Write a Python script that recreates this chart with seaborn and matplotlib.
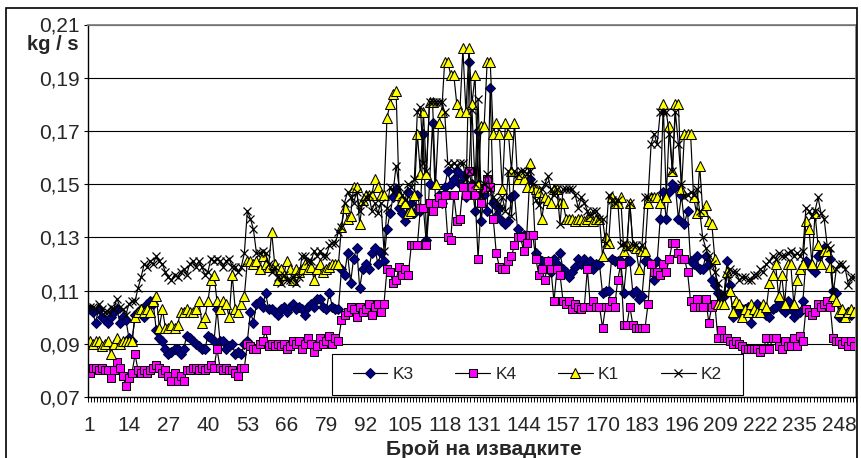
import numpy as np
import pandas as pd
import matplotlib
matplotlib.use("Agg")
import matplotlib.pyplot as plt
from matplotlib.patches import Rectangle
from matplotlib.ticker import FixedLocator, FuncFormatter
import seaborn as sns

# values, one per sample (1..253)
k3 = [0.103, 0.102, 0.098, 0.103, 0.100, 0.099, 0.098, 0.100, 0.102, 0.103,
      0.098, 0.100, 0.099, 0.092, 0.091, 0.101, 0.102, 0.103, 0.100, 0.105,
      0.106, 0.105, 0.095, 0.092, 0.091, 0.088, 0.086, 0.087, 0.088, 0.088,
      0.086, 0.088, 0.093, 0.092, 0.091, 0.090, 0.089, 0.088, 0.088, 0.093,
      0.092, 0.091, 0.103, 0.091, 0.091, 0.088, 0.089, 0.090, 0.086, 0.087,
      0.086, 0.090, 0.091, 0.102, 0.098, 0.105, 0.106, 0.104, 0.109, 0.103,
      0.103, 0.102, 0.101, 0.103, 0.104, 0.102, 0.104, 0.105, 0.103, 0.104,
      0.103, 0.101, 0.104, 0.105, 0.104, 0.107, 0.107, 0.104, 0.103, 0.109,
      0.104, 0.103, 0.103, 0.118, 0.116, 0.124, 0.113, 0.122, 0.126, 0.111,
      0.118, 0.120, 0.118, 0.124, 0.126, 0.120, 0.124, 0.121, 0.133, 0.139,
      0.145, 0.148, 0.141, 0.139, 0.136, 0.147, 0.143, 0.139, 0.146, 0.140,
      0.169, 0.129, 0.150, 0.173, 0.143, 0.146, 0.143, 0.149, 0.155, 0.150,
      0.152, 0.155, 0.150, 0.153, 0.145, 0.196, 0.150, 0.140, 0.170, 0.136,
      0.146, 0.140, 0.186, 0.143, 0.138, 0.141, 0.136, 0.135, 0.136, 0.145,
      0.146, 0.133, 0.130, 0.131, 0.130, 0.152, 0.148, 0.124, 0.122, 0.121,
      0.119, 0.121, 0.117, 0.122, 0.120, 0.124, 0.118, 0.117, 0.115, 0.117,
      0.119, 0.122, 0.120, 0.122, 0.120, 0.121, 0.118, 0.120, 0.120, 0.109,
      0.110, 0.110, 0.122, 0.121, 0.121, 0.121, 0.109, 0.121, 0.121, 0.109,
      0.110, 0.107, 0.108, 0.121, 0.121, 0.120, 0.114, 0.121, 0.137, 0.147,
      0.137, 0.147, 0.150, 0.149, 0.137, 0.146, 0.135, 0.140, 0.121, 0.120,
      0.123, 0.118, 0.118, 0.123, 0.120, 0.114, 0.112, 0.109, 0.108, 0.108,
      0.121, 0.112, 0.100, 0.102, 0.102, 0.103, 0.103, 0.104, 0.098, 0.103,
      0.105, 0.102, 0.102, 0.101, 0.100, 0.103, 0.104, 0.106, 0.103, 0.102,
      0.106, 0.103, 0.100, 0.102, 0.102, 0.106, 0.121, 0.120, 0.118, 0.117,
      0.123, 0.124, 0.126, 0.125, 0.122, 0.110, 0.109, 0.100, 0.100, 0.101,
      0.102, 0.101, 0.102]

k4 = [0.079, 0.081, 0.081, 0.080, 0.081, 0.080, 0.080, 0.077, 0.080, 0.083,
      0.081, 0.078, 0.074, 0.077, 0.079, 0.086, 0.080, 0.079, 0.080, 0.079,
      0.080, 0.081, 0.082, 0.081, 0.079, 0.080, 0.078, 0.076, 0.079, 0.076,
      0.078, 0.076, 0.080, 0.080, 0.081, 0.081, 0.080, 0.081, 0.080, 0.081,
      0.082, 0.081, 0.088, 0.081, 0.080, 0.081, 0.080, 0.080, 0.079, 0.078,
      0.081, 0.081, 0.090, 0.089, 0.088, 0.088, 0.090, 0.091, 0.095, 0.089,
      0.090, 0.089, 0.090, 0.089, 0.090, 0.088, 0.089, 0.091, 0.090, 0.091,
      0.088, 0.090, 0.092, 0.090, 0.087, 0.089, 0.092, 0.090, 0.091, 0.093,
      0.090, 0.092, 0.091, 0.099, 0.101, 0.102, 0.104, 0.103, 0.100, 0.104,
      0.102, 0.103, 0.105, 0.101, 0.104, 0.105, 0.102, 0.105, 0.118, 0.117,
      0.113, 0.114, 0.119, 0.116, 0.118, 0.116, 0.127, 0.127, 0.127, 0.141,
      0.141, 0.127, 0.143, 0.140, 0.143, 0.145, 0.143, 0.146, 0.130, 0.129,
      0.146, 0.136, 0.137, 0.149, 0.146, 0.155, 0.149, 0.146, 0.122, 0.143,
      0.148, 0.152, 0.149, 0.137, 0.124, 0.119, 0.118, 0.118, 0.121, 0.123,
      0.127, 0.130, 0.130, 0.125, 0.128, 0.131, 0.131, 0.122, 0.116, 0.118,
      0.114, 0.121, 0.118, 0.106, 0.118, 0.116, 0.106, 0.105, 0.106, 0.103,
      0.105, 0.104, 0.103, 0.104, 0.118, 0.104, 0.106, 0.104, 0.104, 0.096,
      0.104, 0.104, 0.106, 0.104, 0.114, 0.120, 0.097, 0.097, 0.104, 0.097,
      0.096, 0.096, 0.096, 0.096, 0.105, 0.120, 0.117, 0.117, 0.116, 0.120,
      0.117, 0.122, 0.128, 0.128, 0.124, 0.122, 0.122, 0.117, 0.106, 0.104,
      0.107, 0.104, 0.104, 0.107, 0.098, 0.104, 0.105, 0.092, 0.095, 0.092,
      0.092, 0.091, 0.090, 0.091, 0.090, 0.089, 0.088, 0.088, 0.088, 0.088,
      0.088, 0.087, 0.088, 0.092, 0.088, 0.092, 0.092, 0.089, 0.088, 0.091,
      0.089, 0.089, 0.092, 0.089, 0.093, 0.091, 0.103, 0.102, 0.101, 0.102,
      0.105, 0.104, 0.105, 0.106, 0.104, 0.092, 0.091, 0.091, 0.090, 0.091,
      0.089, 0.091, 0.089]

k1 = [0.091, 0.090, 0.091, 0.091, 0.089, 0.090, 0.091, 0.086, 0.090, 0.092,
      0.090, 0.091, 0.091, 0.091, 0.091, 0.100, 0.102, 0.103, 0.102, 0.103,
      0.102, 0.106, 0.108, 0.096, 0.103, 0.096, 0.096, 0.097, 0.096, 0.097,
      0.102, 0.102, 0.103, 0.102, 0.102, 0.103, 0.106, 0.098, 0.100, 0.106,
      0.114, 0.116, 0.106, 0.103, 0.106, 0.105, 0.100, 0.116, 0.103, 0.102,
      0.105, 0.108, 0.121, 0.121, 0.120, 0.121, 0.118, 0.123, 0.120, 0.119,
      0.132, 0.120, 0.114, 0.118, 0.116, 0.121, 0.118, 0.114, 0.118, 0.117,
      0.118, 0.120, 0.118, 0.119, 0.114, 0.118, 0.120, 0.117, 0.118, 0.119,
      0.120, 0.120, 0.120, 0.134, 0.141, 0.137, 0.138, 0.149, 0.149, 0.135,
      0.144, 0.146, 0.146, 0.146, 0.152, 0.149, 0.146, 0.146, 0.175, 0.180,
      0.184, 0.185, 0.146, 0.144, 0.143, 0.139, 0.140, 0.146, 0.169, 0.154,
      0.177, 0.154, 0.181, 0.181, 0.150, 0.173, 0.177, 0.196, 0.196, 0.191,
      0.191, 0.180, 0.177, 0.201, 0.177, 0.201, 0.180, 0.191, 0.150, 0.172,
      0.172, 0.196, 0.196, 0.169, 0.173, 0.169, 0.148, 0.173, 0.169, 0.155,
      0.173, 0.152, 0.154, 0.152, 0.149, 0.158, 0.149, 0.148, 0.147, 0.137,
      0.145, 0.144, 0.143, 0.148, 0.148, 0.143, 0.143, 0.137, 0.137, 0.137,
      0.136, 0.137, 0.137, 0.136, 0.137, 0.138, 0.136, 0.137, 0.137, 0.123,
      0.130, 0.128, 0.145, 0.143, 0.143, 0.145, 0.125, 0.127, 0.143, 0.127,
      0.126, 0.118, 0.125, 0.125, 0.143, 0.145, 0.145, 0.145, 0.143, 0.180,
      0.145, 0.172, 0.155, 0.180, 0.180, 0.148, 0.169, 0.169, 0.169, 0.145,
      0.139, 0.157, 0.140, 0.142, 0.136, 0.135, 0.122, 0.105, 0.105, 0.105,
      0.117, 0.110, 0.102, 0.106, 0.105, 0.100, 0.103, 0.102, 0.105, 0.103,
      0.102, 0.102, 0.105, 0.104, 0.113, 0.116, 0.120, 0.108, 0.116, 0.105,
      0.120, 0.120, 0.105, 0.114, 0.118, 0.120, 0.136, 0.133, 0.120, 0.139,
      0.127, 0.120, 0.125, 0.125, 0.119, 0.108, 0.106, 0.102, 0.103, 0.100,
      0.102, 0.103, 0.102]

k2 = [0.104, 0.104, 0.103, 0.105, 0.103, 0.102, 0.102, 0.104, 0.103, 0.107,
      0.104, 0.103, 0.101, 0.105, 0.106, 0.106, 0.111, 0.115, 0.120, 0.119,
      0.121, 0.120, 0.123, 0.121, 0.120, 0.117, 0.115, 0.114, 0.116, 0.115,
      0.117, 0.118, 0.116, 0.120, 0.121, 0.119, 0.121, 0.119, 0.116, 0.117,
      0.122, 0.121, 0.122, 0.121, 0.119, 0.121, 0.122, 0.119, 0.119, 0.117,
      0.119, 0.124, 0.140, 0.137, 0.133, 0.124, 0.124, 0.125, 0.124, 0.120,
      0.117, 0.119, 0.115, 0.113, 0.116, 0.114, 0.114, 0.115, 0.113, 0.115,
      0.123, 0.123, 0.121, 0.121, 0.125, 0.123, 0.125, 0.123, 0.123, 0.127,
      0.128, 0.128, 0.132, 0.134, 0.143, 0.147, 0.145, 0.143, 0.147, 0.140,
      0.143, 0.145, 0.146, 0.140, 0.143, 0.139, 0.143, 0.125, 0.141, 0.149,
      0.147, 0.157, 0.149, 0.146, 0.144, 0.150, 0.149, 0.152, 0.177, 0.179,
      0.158, 0.155, 0.181, 0.181, 0.181, 0.181, 0.181, 0.177, 0.158, 0.157,
      0.158, 0.157, 0.158, 0.158, 0.152, 0.155, 0.178, 0.150, 0.182, 0.146,
      0.150, 0.154, 0.148, 0.145, 0.144, 0.141, 0.145, 0.140, 0.155, 0.138,
      0.155, 0.154, 0.155, 0.155, 0.154, 0.155, 0.150, 0.144, 0.142, 0.148,
      0.150, 0.153, 0.148, 0.146, 0.148, 0.135, 0.148, 0.148, 0.148, 0.148,
      0.146, 0.141, 0.145, 0.143, 0.140, 0.138, 0.140, 0.140, 0.137, 0.137,
      0.128, 0.146, 0.144, 0.143, 0.144, 0.127, 0.128, 0.126, 0.143, 0.127,
      0.127, 0.126, 0.127, 0.145, 0.145, 0.165, 0.169, 0.165, 0.177, 0.177,
      0.177, 0.169, 0.155, 0.177, 0.165, 0.150, 0.145, 0.146, 0.147, 0.146,
      0.148, 0.140, 0.130, 0.126, 0.123, 0.120, 0.117, 0.113, 0.108, 0.109,
      0.116, 0.118, 0.117, 0.117, 0.114, 0.115, 0.115, 0.114, 0.114, 0.116,
      0.116, 0.118, 0.117, 0.120, 0.121, 0.123, 0.122, 0.124, 0.123, 0.123,
      0.124, 0.125, 0.123, 0.124, 0.123, 0.125, 0.141, 0.140, 0.138, 0.140,
      0.145, 0.139, 0.137, 0.127, 0.126, 0.109, 0.118, 0.120, 0.120, 0.118,
      0.112, 0.115, 0.115]

x_labels = [1, 14, 27, 40, 53, 66, 79, 92, 105, 118, 131, 144, 157, 170,
            183, 196, 209, 222, 235, 248]
y_ticks = [0.07, 0.09, 0.11, 0.13, 0.15, 0.17, 0.19, 0.21]

W, H = 861, 458

sns.set_theme(style="white")
plt.rcParams["font.family"] = ["Liberation Sans", "DejaVu Sans"]

df = pd.DataFrame({"sample": np.arange(1, len(k3) + 1),
                   "K3": k3, "K4": k4, "K1": k1, "K2": k2})

styles = {
    "K3": dict(marker="D", markersize=4.7, markerfacecolor="#000080", markeredgecolor="#000040"),
    "K4": dict(marker="s", markersize=5.4, markerfacecolor="#ff00ff", markeredgecolor="black"),
    "K1": dict(marker="^", markersize=6.6, markerfacecolor="#ffff00", markeredgecolor="black"),
    "K2": dict(marker="x", markersize=6.4, markeredgecolor="black", markeredgewidth=0.9),
}

fig = plt.figure(figsize=(W / 100, H / 100), dpi=100)
ax = fig.add_axes([88 / W, 1 - 397 / H, 768 / W, 372.5 / H])

for name in ["K3", "K4", "K1", "K2"]:
    sns.lineplot(data=df, x="sample", y=name, ax=ax, color="black", linewidth=0.85,
                 label=name, errorbar=None, sort=False, **styles[name])

ax.set_xlim(0.5, len(k3) + 0.5)
ax.set_ylim(0.07, 0.21)
ax.set_xlabel("")
ax.set_ylabel("")
ax.set_yticks(y_ticks)
ax.yaxis.set_major_formatter(FuncFormatter(lambda v, p: f"{v:.2f}".replace(".", ",")))
ax.set_xticks(x_labels)
ax.set_xticklabels([str(v) for v in x_labels])
ax.xaxis.set_minor_locator(FixedLocator(np.arange(0.5, len(k3) + 1, 1)))
ax.tick_params(axis="x", which="major", length=0, pad=14, labelsize=15, bottom=True)
ax.tick_params(axis="x", which="minor", length=3.6, width=0.7, color="black", bottom=True)
ax.tick_params(axis="y", which="major", length=3, width=0.8, pad=3, labelsize=15,
               left=True, color="black")
ax.grid(axis="y", color="black", linewidth=0.8)
ax.set_axisbelow(True)
for side in ["left", "bottom"]:
    ax.spines[side].set_color("black")
    ax.spines[side].set_linewidth(1.0)
for side in ["top", "right"]:
    ax.spines[side].set_color("#808080")
    ax.spines[side].set_linewidth(1.3)

# legend box sits on the x axis and covers the data
box = Rectangle((0.3173, 0.0054), 0.5352, 0.110, transform=ax.transAxes,
                facecolor="white", edgecolor="black", linewidth=0.8, zorder=4)
ax.add_patch(box)
leg = ax.legend(loc="center", bbox_to_anchor=(0.585, 0.0604), ncol=4, frameon=False,
                fontsize=12.5, handlelength=2.0, handletextpad=0.3, columnspacing=2.4)
leg.set_zorder(5)

fig.text(53 / W, 1 - 45 / H, "kg / s", ha="center", va="center",
         fontsize=14.5, fontweight="bold")
fig.text(484 / W, 1 - 455 / H, "Брой на извадките", ha="center", va="baseline",
         fontsize=15, fontweight="bold")

fig.patches.append(Rectangle((6 / W, -0.05), 851 / W, 1 - 8 / H + 0.05,
                             transform=fig.transFigure, fill=False,
                             edgecolor="black", linewidth=1.2))

fig.savefig("out.png", dpi=100)
